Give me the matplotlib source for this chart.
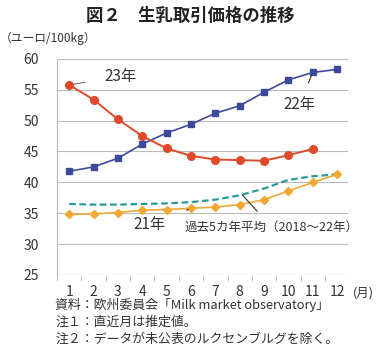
import matplotlib
matplotlib.use("Agg")
import matplotlib.pyplot as plt

plt.rcParams['font.family'] = ['Noto Sans CJK JP', 'DejaVu Sans']

months = list(range(1, 13))
y23 = [55.8, 53.4, 50.2, 47.5, 45.5, 44.3, 43.7, 43.6, 43.5, 44.4, 45.4]
y22 = [41.8, 42.5, 43.9, 46.2, 48.0, 49.4, 51.2, 52.4, 54.6, 56.6, 57.8, 58.3]
y21 = [34.8, 34.9, 35.1, 35.5, 35.6, 35.8, 36.0, 36.4, 37.2, 38.6, 40.0, 41.3]
avg5 = [36.5, 36.4, 36.4, 36.5, 36.6, 36.8, 37.2, 37.9, 39.0, 40.4, 41.0, 41.3]
yticks = [25, 30, 35, 40, 45, 50, 55, 60]

c_red = '#DE4A2B'
c_blue = '#3D4A9C'
c_orange = '#F0A832'
c_teal = '#2A9A98'

fig = plt.figure(figsize=(3.8, 3.59), dpi=100)
ax = fig.add_axes([0.15, 0.234, 0.766, 0.602])

ax.plot(months, avg5, color=c_teal, lw=1.6, ls=(0, (3, 1.6)), zorder=2)
ax.plot(months, y21, color=c_orange, lw=1.2, marker='D', ms=4.5, zorder=3)
ax.plot(months, y22, color=c_blue, lw=1.2, marker='s', ms=5, zorder=3)
ax.plot(months[:len(y23)], y23, color=c_red, lw=1.4, marker='o', ms=5.5, zorder=4)

ax.set_xlim(0.5, 12.45)
ax.set_ylim(25, 60)
ax.set_yticks(yticks)
ax.set_xticks(months)
ax.set_xticks([m + 0.5 for m in range(0, 12)], minor=True)
ax.yaxis.grid(True, color='#BBBBBB', lw=0.8)
ax.set_axisbelow(True)
for s in ['top', 'right', 'bottom']:
    ax.spines[s].set_visible(False)
ax.spines['left'].set_color('#BBBBBB')
ax.axhline(25, color='#BBBBBB', lw=0.8, zorder=1)
ax.tick_params(axis='y', length=0, labelsize=10, colors='#333333', pad=13)
ax.tick_params(axis='x', which='major', length=0, labelsize=10, colors='#333333', pad=7)
ax.tick_params(axis='x', which='minor', length=4, color='#BBBBBB', direction='out')

# annotations
ax.annotate('23年', xy=(1, y23[0]), xytext=(3.1, 57.1), fontsize=11, color='#333333',
            ha='center', va='center',
            arrowprops=dict(arrowstyle='-', color='#777777', lw=0.8, shrinkA=12, shrinkB=2))
ax.annotate('22年', xy=(11, y22[10]), xytext=(10.45, 52.6), fontsize=11, color='#333333',
            ha='center', va='center',
            arrowprops=dict(arrowstyle='-', color='#333333', lw=0.8, shrinkA=8, shrinkB=2))
ax.annotate('21年', xy=(6, y21[5]), xytext=(4.3, 33.1), fontsize=11, color='#333333',
            ha='center', va='center',
            arrowprops=dict(arrowstyle='-', color='#333333', lw=0.8, shrinkA=14, shrinkB=2))
ax.annotate('過去5カ年平均（2018～22年）', xy=(8.1, 38.0), xytext=(9.3, 32.8), fontsize=9,
            color='#333333', ha='center', va='center',
            arrowprops=dict(arrowstyle='-', color='#333333', lw=0.8, shrinkA=6, shrinkB=0))

fig.text(0.928, 0.183, '(月)', fontsize=9, color='#333333', ha='left', va='center')
fig.text(0.5, 0.955, '図２　生乳取引価格の推移', fontsize=12.5, fontweight='bold',
         color='#222222', ha='center', va='center')
fig.text(0.0, 0.893, '（ユーロ/100kg）', fontsize=8.5, color='#333333', ha='left', va='center')

notes = ['資料：欧州委員会「Milk market observatory」',
         '注１：直近月は推定値。',
         '注２：データが未公表のルクセンブルグを除く。']
for i, t in enumerate(notes):
    fig.text(0.145, 0.150 - i * 0.048, t, fontsize=9.3, color='#333333', ha='left', va='center')

fig.savefig('out.png', dpi=100)
